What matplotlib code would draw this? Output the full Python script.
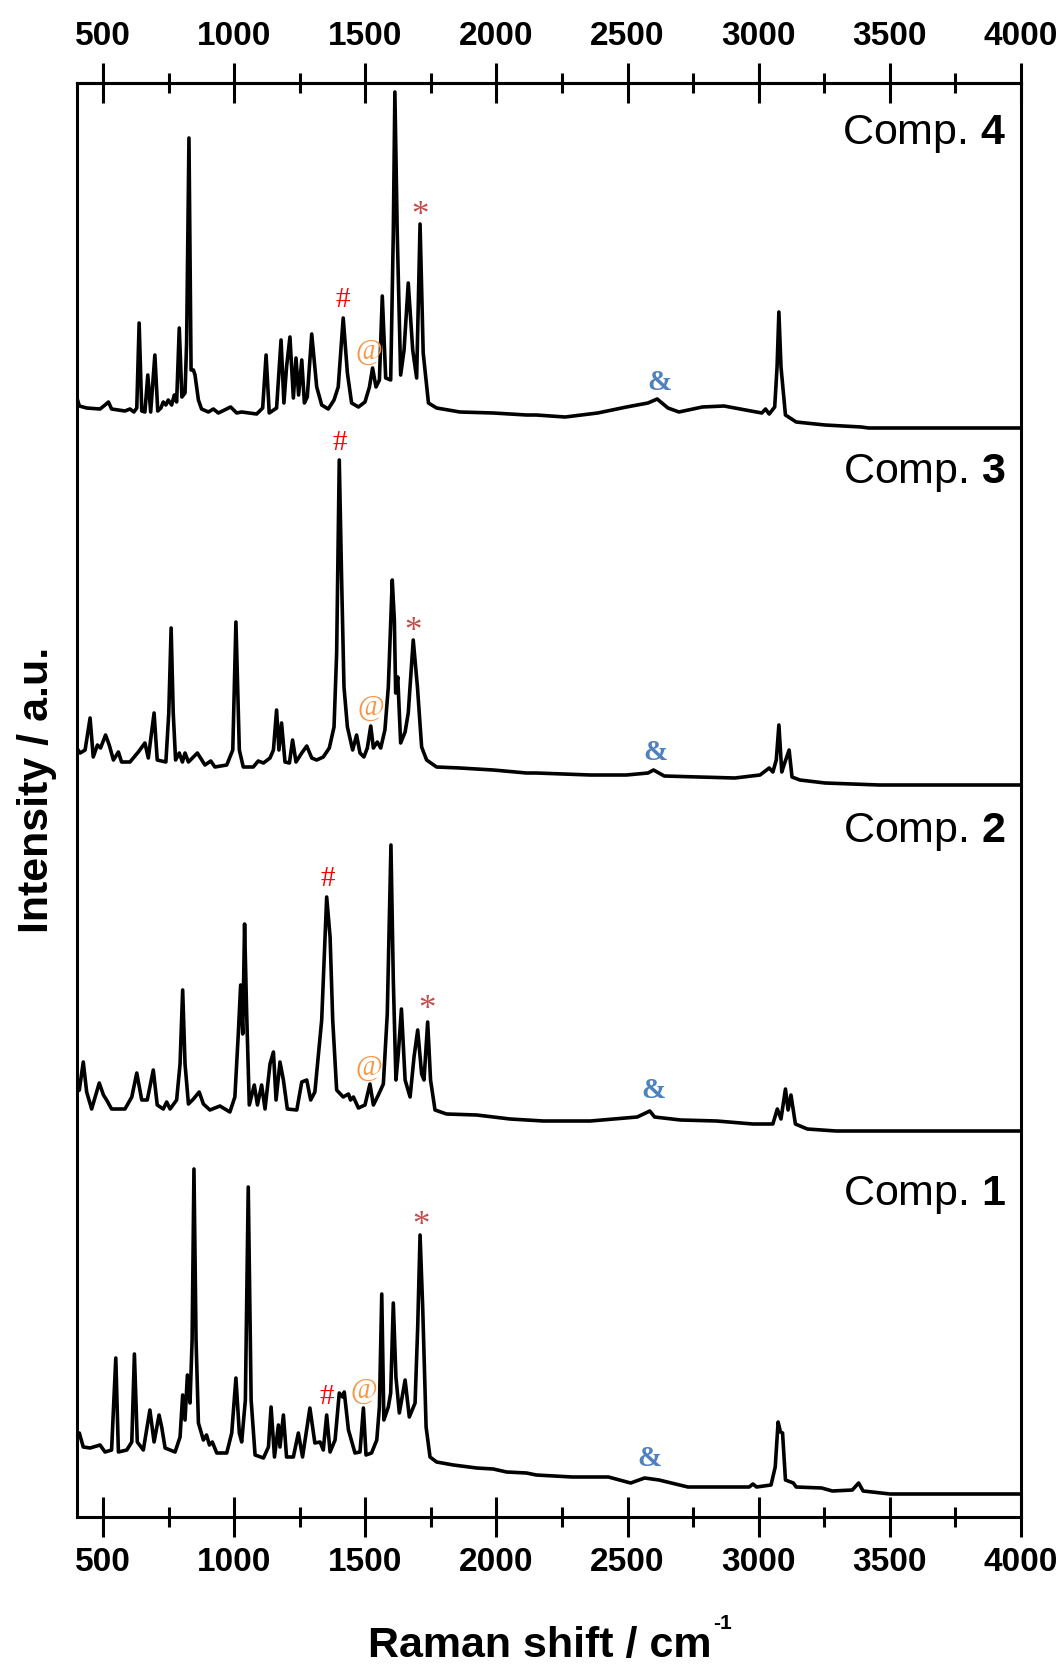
import matplotlib
matplotlib.use('Agg')
import matplotlib.pyplot as plt

plt.rcParams['font.family'] = ['Liberation Sans', 'DejaVu Sans']
plt.rcParams['mathtext.fontset'] = 'custom'
plt.rcParams['mathtext.rm'] = 'Liberation Sans'
plt.rcParams['mathtext.bf'] = 'Liberation Sans:bold'
plt.rcParams['mathtext.it'] = 'Liberation Sans:italic'

# ---------------- data ----------------
tick_values = [500, 1000, 1500, 2000, 2500, 3000, 3500, 4000]
tick_labels = ['500', '1000', '1500', '2000', '2500', '3000', '3500', '4000']
minor_values = [750, 1250, 1750, 2250, 2750, 3250, 3750]

names = ['Comp. $\\mathbf{1}$', 'Comp. $\\mathbf{2}$', 'Comp. $\\mathbf{3}$', 'Comp. $\\mathbf{4}$']
offsets = [23, 386, 732, 1089]

wn1 = [400, 410, 425, 451, 489, 508, 533, 549, 559, 591,
       610, 620, 631, 654, 679, 695, 714, 724, 737, 775,
       794, 804, 813, 822, 832, 840, 847, 855, 864, 883,
       895, 906, 917, 934, 972, 991, 1007, 1020, 1029, 1043,
       1054, 1065, 1080, 1112, 1131, 1141, 1154, 1169, 1175, 1188,
       1200, 1226, 1245, 1261, 1289, 1308, 1328, 1340, 1353, 1366,
       1385, 1401, 1414, 1420, 1436, 1461, 1480, 1493, 1503, 1524,
       1544, 1554, 1563, 1571, 1588, 1597, 1607, 1617, 1630, 1652,
       1668, 1690, 1700, 1709, 1719, 1732, 1747, 1772, 1836, 1925,
       1988, 2039, 2115, 2152, 2289, 2427, 2512, 2565, 2620, 2730,
       2840, 2964, 2978, 2992, 3047, 3063, 3074, 3083, 3091, 3102,
       3132, 3143, 3240, 3281, 3357, 3381, 3398, 3433, 3501, 4000]
int1 = [54, 61, 47, 46, 49, 42, 44, 136, 42, 44,
        52, 140, 52, 44, 84, 52, 79, 67, 46, 42,
        57, 99, 74, 119, 91, 154, 325, 154, 71, 54,
        59, 49, 52, 41, 41, 61, 116, 61, 52, 94,
        307, 94, 39, 36, 47, 87, 37, 69, 47, 79,
        37, 37, 61, 37, 86, 51, 52, 44, 79, 42,
        54, 101, 97, 102, 64, 41, 42, 86, 39, 41,
        54, 87, 200, 74, 87, 101, 191, 117, 81, 114,
        77, 91, 167, 259, 187, 67, 37, 32, 29, 26,
        25, 22, 21, 19, 17, 17, 11, 16, 14, 7,
        7, 7, 10, 7, 9, 27, 72, 62, 61, 14,
        11, 7, 6, 3, 4, 11, 3, 2, 0, 0]

wn2 = [400, 410, 425, 438, 457, 486, 502, 514, 533, 584,
       610, 629, 648, 669, 692, 707, 730, 743, 756, 781,
       794, 804, 813, 826, 845, 867, 883, 908, 946, 984,
       1003, 1016, 1025, 1033, 1040, 1048, 1058, 1077, 1089, 1105,
       1118, 1137, 1150, 1160, 1175, 1188, 1203, 1239, 1258, 1277,
       1292, 1308, 1334, 1353, 1366, 1376, 1391, 1416, 1436, 1444,
       1455, 1474, 1499, 1518, 1531, 1550, 1569, 1584, 1598, 1607,
       1617, 1626, 1638, 1652, 1671, 1686, 1700, 1715, 1724, 1738,
       1749, 1766, 1810, 1925, 2052, 2179, 2358, 2537, 2585, 2603,
       2702, 2840, 2978, 3054, 3071, 3085, 3102, 3112, 3123, 3140,
       3185, 3295, 4000]
int2 = [39, 41, 69, 39, 22, 48, 36, 31, 22, 22,
        34, 58, 31, 31, 61, 26, 22, 29, 22, 31,
        67, 141, 67, 27, 32, 39, 27, 21, 25, 19,
        34, 97, 146, 97, 207, 117, 26, 46, 26, 46,
        22, 67, 79, 31, 69, 51, 22, 21, 49, 51,
        31, 39, 111, 234, 194, 111, 41, 34, 37, 31,
        34, 23, 26, 47, 26, 36, 47, 117, 286, 151,
        51, 77, 122, 51, 34, 74, 101, 57, 51, 109,
        51, 21, 17, 16, 12, 10, 10, 14, 20, 14,
        11, 10, 7, 7, 22, 12, 42, 21, 36, 7,
        2, 0, 0]

wn3 = [400, 413, 432, 451, 463, 479, 491, 510, 524, 540,
       559, 571, 603, 635, 660, 673, 695, 707, 740, 751,
       760, 768, 777, 791, 803, 813, 826, 860, 889, 911,
       927, 972, 995, 1007, 1020, 1035, 1073, 1092, 1112, 1137,
       1150, 1162, 1171, 1181, 1194, 1211, 1223, 1236, 1258, 1277,
       1296, 1315, 1340, 1363, 1381, 1391, 1401, 1410, 1419, 1432,
       1452, 1467, 1480, 1495, 1508, 1521, 1531, 1546, 1559, 1575,
       1588, 1603, 1611, 1616, 1624, 1635, 1652, 1664, 1683, 1699,
       1715, 1734, 1772, 1861, 1988, 2115, 2152, 2358, 2496, 2578,
       2599, 2640, 2771, 2909, 3005, 3040, 3054, 3067, 3077, 3088,
       3099, 3116, 3127, 3157, 3253, 3460, 4000]
int3 = [37, 32, 35, 67, 28, 40, 37, 50, 40, 25,
        33, 23, 23, 33, 42, 27, 72, 25, 23, 72,
        157, 72, 25, 32, 23, 32, 23, 32, 20, 24,
        18, 20, 35, 163, 35, 18, 18, 24, 22, 27,
        35, 75, 35, 62, 23, 22, 45, 23, 32, 39,
        27, 25, 28, 37, 58, 132, 325, 205, 98, 58,
        35, 50, 32, 28, 37, 59, 37, 43, 37, 55,
        98, 205, 165, 92, 108, 42, 53, 72, 145, 98,
        38, 25, 18, 17, 15, 12, 12, 10, 10, 12,
        15, 9, 8, 7, 10, 17, 13, 25, 60, 13,
        22, 35, 8, 5, 2, 0, 0]

wn4 = [400, 410, 438, 489, 508, 521, 533, 584, 603, 618,
       629, 638, 648, 660, 671, 682, 698, 709, 721, 730,
       740, 749, 762, 772, 781, 791, 801, 813, 819, 828,
       836, 845, 851, 864, 876, 902, 921, 940, 987, 1010,
       1029, 1086, 1109, 1122, 1134, 1162, 1179, 1190, 1200, 1213,
       1226, 1236, 1246, 1258, 1268, 1279, 1296, 1315, 1334, 1359,
       1381, 1397, 1416, 1432, 1448, 1474, 1499, 1516, 1528, 1541,
       1554, 1565, 1578, 1597, 1607, 1613, 1622, 1635, 1648, 1664,
       1681, 1696, 1709, 1721, 1741, 1772, 1861, 1988, 2115, 2152,
       2262, 2386, 2496, 2578, 2613, 2654, 2696, 2785, 2868, 2950,
       3012, 3026, 3040, 3061, 3070, 3077, 3085, 3102, 3143, 3253,
       3391, 3419, 4000]
int4 = [31, 22, 20, 19, 23, 26, 19, 17, 19, 16,
        20, 105, 17, 16, 53, 16, 73, 17, 20, 26,
        23, 28, 23, 33, 26, 100, 31, 35, 85, 290,
        58, 58, 53, 28, 19, 16, 19, 15, 21, 15,
        16, 14, 20, 73, 15, 20, 88, 25, 61, 91,
        30, 70, 33, 68, 25, 31, 94, 41, 23, 19,
        28, 41, 110, 55, 25, 21, 26, 41, 60, 41,
        48, 132, 50, 48, 195, 336, 195, 53, 78, 145,
        78, 50, 204, 75, 25, 20, 16, 15, 13, 13,
        11, 15, 21, 25, 29, 20, 16, 21, 22, 18,
        15, 19, 14, 21, 61, 116, 61, 13, 6, 3,
        1, 0, 0]

# peak markers: (symbol, wavenumber, height on the stacked axis)
marker_symbols = ['#', '@', '*', '&']
marker_colors = ['#FF0000', '#F79646', '#C0504D', '#4F81BD']
marker_x = [[1353, 1493, 1711, 2585],
            [1357, 1514, 1734, 2599],
            [1401, 1521, 1681, 2606],
            [1414, 1512, 1709, 2620]]
marker_y = [[120, 126, 295, 59],
            [638, 449, 511, 427],
            [1074, 809, 890, 765],
            [1217, 1165, 1305, 1134]]
label_y = [312, 675, 1034, 1373]

# ---------------- figure ----------------
W, H = 1064, 1664
fig = plt.figure(figsize=(W / 100, H / 100), dpi=100)
x0, x1, y0, y1 = 76.7, 1021, 83, 1517
ax = fig.add_axes([x0 / W, 1 - y1 / H, (x1 - x0) / W, (y1 - y0) / H])
ax.set_xlim(400, 4000)
ax.set_ylim(0, 1434)

spectra = [(wn1, int1), (wn2, int2), (wn3, int3), (wn4, int4)]
for (wn, inten), off in zip(spectra, offsets):
    ax.plot(wn, [v + off for v in inten], color='black', lw=2.6,
            solid_joinstyle='round', solid_capstyle='butt')

marker_style = {
    '#': dict(fontsize=21, fontweight='normal', dy=0),
    '@': dict(fontsize=21, fontweight='normal', dy=0),
    '*': dict(fontsize=25, fontweight='normal', dy=-5),
    '&': dict(fontsize=21, fontweight='bold', dy=0),
}
for k in range(4):
    for sym, col, mx, my in zip(marker_symbols, marker_colors, marker_x[k], marker_y[k]):
        st = marker_style[sym]
        ax.text(mx, my + st['dy'], sym, color=col, fontsize=st['fontsize'],
                fontweight=st['fontweight'], family='Liberation Serif',
                ha='center', va='center')
    ax.text(3943, label_y[k], names[k], fontsize=31, ha='right', va='baseline')

for s in ax.spines.values():
    s.set_linewidth(2.2)

ax.set_xticks(tick_values, labels=tick_labels, fontweight='bold', fontsize=24)
ax.set_xticks(minor_values, minor=True)
ax.tick_params(axis='x', which='major', direction='inout', length=29, width=2.2,
               pad=7, top=False)
ax.tick_params(axis='x', which='minor', direction='inout', length=15, width=2.2, top=False)
ax.tick_params(axis='y', left=False, labelleft=False, right=False)

sec = ax.secondary_xaxis('top')
sec.set_xticks(tick_values, labels=tick_labels, fontweight='bold', fontsize=24)
sec.set_xticks(minor_values, minor=True)
sec.tick_params(axis='x', which='major', direction='inout', length=29, width=2.2, pad=8)
sec.tick_params(axis='x', which='minor', direction='inout', length=15, width=2.2)
sec.spines['top'].set_linewidth(2.2)

# x label with a small superscript "-1"
xl = fig.text(540 / W, 1 - 1657 / H, 'Raman shift / cm', fontsize=31,
              fontweight='bold', ha='center', va='baseline')
fig.canvas.draw()
bb = xl.get_window_extent()
fig.text((bb.x1 + 1) / W, 1 - 1629 / H, '-1', fontsize=15, fontweight='bold',
         ha='left', va='baseline')

fig.text(48 / W, 1 - 790 / H, 'Intensity / a.u.', fontsize=31, fontweight='bold',
         rotation=90, rotation_mode='anchor', ha='center', va='baseline')

fig.savefig('out.png', dpi=100)
